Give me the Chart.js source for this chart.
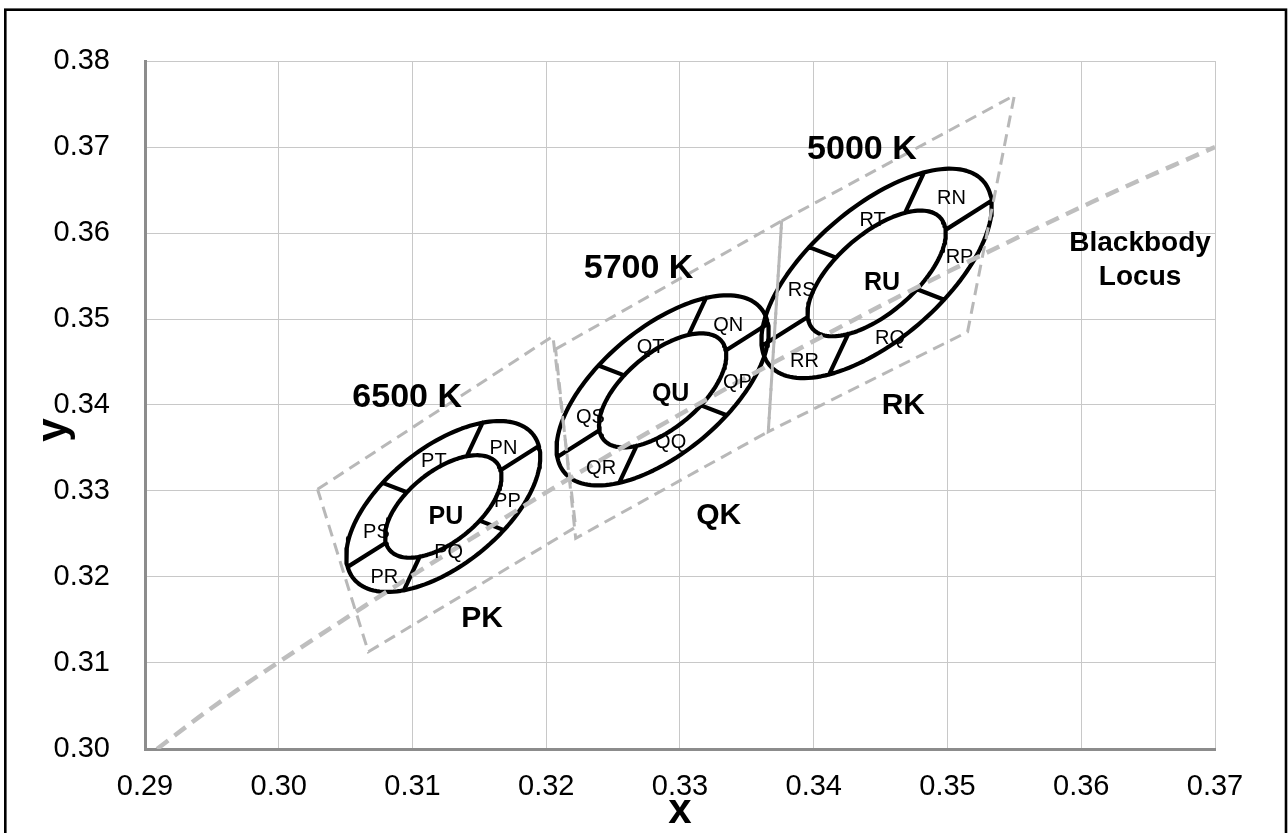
<!DOCTYPE html>
<html>
<head>
<meta charset="utf-8">
<title>Bins ANSI et ellipses</title>
<script src="https://cdn.jsdelivr.net/npm/chart.js@4.4.1/dist/chart.umd.min.js"></script>
<style>
    html, body { margin: 0; padding: 0; background: #fff; }
</style>
</head>
<body>
<canvas id="cieChart" width="1288" height="833"></canvas>
<script>
// Lieu du corps noir
const locusX = [0.2909, 0.2950, 0.3064, 0.3135, 0.3221, 0.3324, 0.3451, 0.3608, 0.3700];
const locusY = [0.3000, 0.3048, 0.3166, 0.3236, 0.3318, 0.3410, 0.3516, 0.3636, 0.3700];

// Quadrilatères (haut-gauche, haut-droit, bas-droit, bas-gauche)
const binNames = ['PK', 'QK', 'RK'];
const binCct = ['6500 K', '5700 K', '5000 K'];
const quadX = [
    [0.3029, 0.3205, 0.3222, 0.3067],
    [0.3207, 0.3376, 0.3366, 0.3222],
    [0.3376, 0.3550, 0.3515, 0.3366]
];
const quadY = [
    [0.3302, 0.3480, 0.3258, 0.3113],
    [0.3465, 0.3614, 0.3369, 0.3245],
    [0.3614, 0.3760, 0.3485, 0.3369]
];

// Ellipses : centre, demi-axes, inclinaison (degrés)
const ellCx = [0.3123, 0.3287, 0.3447];
const ellCy = [0.3282, 0.3417, 0.3553];
const ellA = [0.0111, 0.0124, 0.0137];
const ellB = [0.0053, 0.0056, 0.0059];
const ellAngle = [59.5, 59.5, 59.5];
const innerScale = 0.6;
const dividerAngles = [44.5, 73.2, -31.2];

// Étiquettes des sous-bins
const subNames = ['N', 'P', 'Q', 'R', 'S', 'T', 'U'];
const subX = [
    [0.3168, 0.3171, 0.3127, 0.3079, 0.3073, 0.3116, 0.3125],
    [0.3336, 0.3343, 0.3293, 0.3241, 0.3233, 0.3278, 0.3293],
    [0.3503, 0.3509, 0.3457, 0.3393, 0.3391, 0.3444, 0.3451]
];
const subY = [
    [0.3349, 0.3288, 0.3228, 0.3199, 0.3252, 0.3334, 0.3270],
    [0.3493, 0.3426, 0.3356, 0.3326, 0.3385, 0.3467, 0.3413],
    [0.3640, 0.3572, 0.3477, 0.3451, 0.3533, 0.3614, 0.3542]
];
const cctLabelX = [0.3096, 0.3269, 0.3436];
const cctLabelY = [0.3409, 0.3559, 0.3697];
const binLabelX = [0.3152, 0.3329, 0.3467];
const binLabelY = [0.3152, 0.3271, 0.3399];
const locusLabel = ['Blackbody', 'Locus'];
const locusLabelX = [0.3644, 0.3644];
const locusLabelY = [0.3588, 0.3548];

const FONT = "'Liberation Sans', Arial, Helvetica, sans-serif";
const GAP = { x: null, y: null };

// Point de l'ellipse i pour le paramètre t
function ellipsePoint(i, t, s) {
    const th = ellAngle[i] * Math.PI / 180;
    const u = ellA[i] * s * Math.cos(t);
    const v = ellB[i] * s * Math.sin(t);
    return {
        x: ellCx[i] + u * Math.cos(th) - v * Math.sin(th),
        y: ellCy[i] + u * Math.sin(th) + v * Math.cos(th)
    };
}

// Distance du centre au bord de l'ellipse dans la direction phi
function rayRadius(i, phi, s) {
    const d = phi - ellAngle[i] * Math.PI / 180;
    const u = Math.cos(d) / (ellA[i] * s);
    const v = Math.sin(d) / (ellB[i] * s);
    return 1 / Math.sqrt(u * u + v * v);
}

// Anneau : ellipse extérieure, intérieure et séparations
function ringPoints(i) {
    const pts = [];
    [1, innerScale].forEach(s => {
        for (let k = 0; k <= 144; k++) {
            pts.push(ellipsePoint(i, k / 144 * 2 * Math.PI, s));
        }
        pts.push(GAP);
    });
    dividerAngles.forEach(deg => {
        [0, 180].forEach(off => {
            const phi = (deg + off) * Math.PI / 180;
            [innerScale, 1].forEach(s => {
                const r = rayRadius(i, phi, s);
                pts.push({ x: ellCx[i] + r * Math.cos(phi), y: ellCy[i] + r * Math.sin(phi) });
            });
            pts.push(GAP);
        });
    });
    return pts;
}

const datasets = [];

// Lieu du corps noir
datasets.push({
    label: 'Blackbody Locus',
    data: locusX.map((x, k) => ({ x, y: locusY[k] })),
    showLine: true,
    borderColor: '#bebebe',
    borderWidth: 4.5,
    borderDash: [14, 8],
    pointRadius: 0,
    cubicInterpolationMode: 'monotone',
    order: 0
});

// Quadrilatères en pointillés
binNames.forEach((name, i) => {
    const pts = quadX[i].map((x, k) => ({ x, y: quadY[i][k] }));
    pts.push(pts[0]);
    datasets.push({
        label: name,
        data: pts,
        showLine: true,
        borderColor: '#b8b8b8',
        borderWidth: 3,
        borderDash: [12, 7],
        pointRadius: 0,
        tension: 0,
        order: 0
    });
});

// Ellipses
binNames.forEach((name, i) => {
    datasets.push({
        label: name + ' ellipse',
        data: ringPoints(i),
        showLine: true,
        spanGaps: false,
        borderColor: '#000',
        borderWidth: 4.2,
        borderJoinStyle: 'round',
        borderCapStyle: 'round',
        pointRadius: 0,
        tension: 0,
        order: 1
    });
});

// Cadre noir et fond blanc
const framePlugin = {
    id: 'frame',
    beforeDraw(chart) {
        const ctx = chart.ctx;
        ctx.save();
        ctx.fillStyle = '#fff';
        ctx.fillRect(0, 0, chart.width, chart.height);
        ctx.strokeStyle = '#000';
        ctx.lineWidth = 2.6;
        ctx.strokeRect(5.3, 9.7, 1280.7, 900);
        ctx.restore();
    }
};

// Textes placés en coordonnées x, y
const textPlugin = {
    id: 'texts',
    afterDatasetsDraw(chart) {
        const { ctx, chartArea, scales: { x, y } } = chart;
        const put = (text, px, py, font) => {
            ctx.font = font;
            ctx.fillText(text, x.getPixelForValue(px), y.getPixelForValue(py));
        };
        ctx.save();
        ctx.fillStyle = '#000';
        ctx.textAlign = 'center';
        ctx.textBaseline = 'middle';
        binNames.forEach((name, i) => {
            put(binCct[i], cctLabelX[i], cctLabelY[i], `bold 34px ${FONT}`);
            put(name, binLabelX[i], binLabelY[i], `bold 30px ${FONT}`);
            subNames.forEach((s, k) => {
                const bold = s === 'U';
                put(name[0] + s, subX[i][k], subY[i][k], bold ? `bold 25px ${FONT}` : `20px ${FONT}`);
            });
        });
        locusLabel.forEach((t, k) => put(t, locusLabelX[k], locusLabelY[k], `bold 28px ${FONT}`));

        // Titre de l'axe y, un peu sous le milieu comme sur l'original
        ctx.translate(chartArea.left - 91, (chartArea.top + chartArea.bottom) / 2 + 25);
        ctx.rotate(-Math.PI / 2);
        ctx.font = `bold 42px ${FONT}`;
        ctx.fillText('y', 0, 0);
        ctx.restore();
    }
};

const ctx = document.getElementById('cieChart').getContext('2d');
new Chart(ctx, {
    type: 'scatter',
    data: { datasets },
    plugins: [framePlugin, textPlugin],
    options: {
        responsive: false,
        animation: false,
        events: [],
        layout: { padding: { top: 61, right: 73, left: 0, bottom: 0 } },
        plugins: {
            legend: { display: false },
            tooltip: { enabled: false }
        },
        scales: {
            x: {
                type: 'linear',
                min: 0.29,
                max: 0.37,
                afterFit: s => { s.height = 84; },
                grid: { color: '#c8c8c8', lineWidth: 1, drawTicks: false },
                border: { color: '#8c8c8c', width: 3 },
                ticks: {
                    stepSize: 0.01,
                    padding: 21,
                    color: '#000',
                    font: { family: FONT, size: 29 },
                    callback: v => v.toFixed(2)
                },
                title: {
                    display: true,
                    text: 'x',
                    color: '#000',
                    font: { family: FONT, size: 42, weight: 'bold', lineHeight: 1.05 },
                    padding: { top: 0, bottom: 0 }
                }
            },
            y: {
                type: 'linear',
                min: 0.30,
                max: 0.38,
                afterFit: s => { s.width = 145; },
                grid: { color: '#c8c8c8', lineWidth: 1, drawTicks: false },
                border: { color: '#8c8c8c', width: 3 },
                ticks: {
                    stepSize: 0.01,
                    padding: 35,
                    color: '#000',
                    font: { family: FONT, size: 29 },
                    callback: v => v.toFixed(2)
                }
            }
        }
    }
});
</script>
</body>
</html>
